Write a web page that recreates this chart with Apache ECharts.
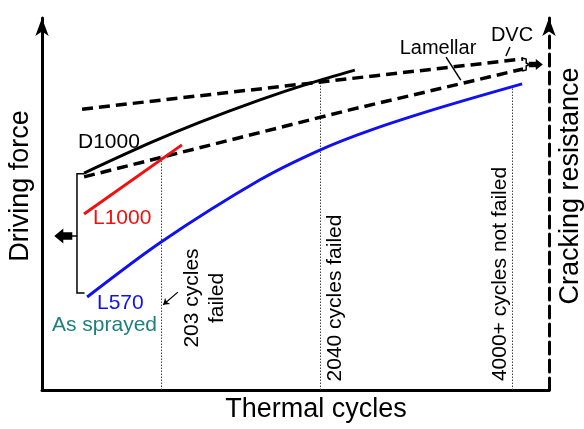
<!DOCTYPE html>
<html>
<head>
<meta charset="utf-8">
<script src="https://cdn.jsdelivr.net/npm/echarts@6/dist/echarts.min.js"></script>
<style>
html,body{margin:0;padding:0;background:#fff;}
#chart{width:584px;height:429px;}
</style>
</head>
<body>
<div id="chart"></div>
<script>
// Schematic chart: x = thermal cycles (arbitrary 0-100), y = driving force / cracking resistance (arbitrary 0-100)
const dvcLine      = [[7.9, 75.5], [94.9, 89.0]];
const lamellarLine = [[8.3, 57.3], [60.7, 75.3], [94.9, 86.3]];
const d1000Line    = [[8.3, 58.3], [21.3, 66.4], [31.2, 72.0], [43.0, 78.0], [52.9, 82.5], [61.7, 86.0]];
const l1000Line    = [[8.3, 47.3], [27.6, 65.9]];
const l570Line     = [[8.9, 25.0], [23.5, 39.8], [43.0, 56.5], [54.8, 64.5], [64.7, 69.8], [78.5, 75.9], [94.7, 82.3]];

// failure markers (x position, top of dotted guide)
const failX   = [23.5, 54.8, 92.7];
const failTop = [63.0, 83.1, 81.2];
const failLabels = ['203 cycles\nfailed', '2040 cycles failed', '4000+ cycles not failed'];

// left bracket grouping D1000 / L1000 / L570
const bracketPath = [[8.4, 58.1], [6.9, 58.1], [6.9, 26.1], [8.4, 26.1]];
const bracketStub = [[6.9, 41.4], [5.5, 41.4]];
const leftArrow   = [[4.2, 41.4]];
// right brace joining DVC / Lamellar
const bracePath   = [[94.7, 89.25], [95.5, 88.98], [95.5, 87.9], [96.1, 87.5], [95.5, 87.1], [95.5, 86.02], [94.7, 85.75]];
const rightArrow  = [[97.4, 87.5]];
// leader lines
const dvcLeader      = [[92.3, 92.2], [91.5, 89.8]];
const lamellarLeader = [[79.7, 89.5], [82.6, 83.3]];
const failLeader     = [[26.8, 26.3], [23.9, 22.9]];

const FONT = 'Liberation Sans, Arial, sans-serif';
const chart = echarts.init(document.getElementById('chart'), null, {renderer: 'canvas'});

const dash = [11, 6];
function lineSeries(data, color, width, type, smooth) {
  return {
    type: 'line', data: data, symbol: 'none', smooth: smooth ? 0.3 : false,
    lineStyle: {color: color, width: width, type: type, cap: 'butt'},
    silent: true, animation: false, z: 3
  };
}

const option = {
  animation: false,
  backgroundColor: '#fff',
  grid: {left: 42, right: 35, top: 18, bottom: 39, containLabel: false},
  xAxis: {
    type: 'value', min: 0, max: 100,
    axisLine: {show: true, onZero: false, lineStyle: {color: '#000', width: 3}},
    axisTick: {show: false}, axisLabel: {show: false}, splitLine: {show: false}
  },
  yAxis: [
    {
      type: 'value', min: 0, max: 100, position: 'left',
      axisLine: {show: true, onZero: false, symbol: ['none', 'arrow'], symbolSize: [10, 18],
        lineStyle: {color: '#000', width: 3}},
      axisTick: {show: false}, axisLabel: {show: false}, splitLine: {show: false}
    },
    {
      type: 'value', min: 0, max: 100, position: 'right',
      axisLine: {show: true, onZero: false, symbol: ['none', 'arrow'], symbolSize: [10, 18],
        lineStyle: {color: '#000', width: 3, type: [12, 6]}},
      axisTick: {show: false}, axisLabel: {show: false}, splitLine: {show: false}
    }
  ],
  series: [
    {
      type: 'lines', coordinateSystem: 'cartesian2d', silent: true, z: 1,
      lineStyle: {color: '#444', width: 1, type: [1.5, 1.5], opacity: 1},
      data: failX.map((x, i) => ({coords: [[x, 0], [x, failTop[i]]]}))
    },
    lineSeries(dvcLine, '#000', 3.5, dash, false),
    lineSeries(lamellarLine, '#000', 3.5, dash, false),
    lineSeries(d1000Line, '#000', 3, 'solid', true),
    lineSeries(l1000Line, '#f01010', 3, 'solid', false),
    lineSeries(l570Line, '#1010f0', 3, 'solid', true),
    {
      type: 'lines', coordinateSystem: 'cartesian2d', polyline: true, silent: true,
      lineStyle: {color: '#000', width: 1.5, opacity: 1},
      data: [{coords: bracketPath}, {coords: bracketStub}, {coords: bracePath},
             {coords: dvcLeader}, {coords: lamellarLeader}]
    },
    {
      type: 'lines', coordinateSystem: 'cartesian2d', silent: true,
      symbol: ['none', 'arrow'], symbolSize: 6,
      lineStyle: {color: '#000', width: 1.2, opacity: 1},
      data: [{coords: failLeader}]
    },
    {
      type: 'scatter', data: leftArrow, silent: true, z: 5,
      symbol: 'path://M0,6 L8,0 L8,3 L16,3 L16,9 L8,9 L8,12 Z', symbolSize: [18, 15],
      itemStyle: {color: '#000', opacity: 1}
    },
    {
      type: 'scatter', data: rightArrow, silent: true, z: 5,
      symbol: 'path://M16,6 L8,0 L8,3 L0,3 L0,9 L8,9 L8,12 Z', symbolSize: [14, 11],
      itemStyle: {color: '#000', opacity: 1}
    }
  ],
  graphic: [
    {type: 'text', x: 316, y: 410, style: {text: 'Thermal cycles', font: '27px ' + FONT, fill: '#000', align: 'center', verticalAlign: 'middle'}},
    {type: 'text', x: 21, y: 186, rotation: Math.PI / 2, style: {text: 'Driving force', font: '27px ' + FONT, fill: '#000', align: 'center', verticalAlign: 'middle'}},
    {type: 'text', x: 571, y: 186, rotation: Math.PI / 2, style: {text: 'Cracking resistance', font: '27px ' + FONT, fill: '#000', align: 'center', verticalAlign: 'middle'}},
    {type: 'text', x: 78, y: 142, style: {text: 'D1000', font: '21px ' + FONT, fill: '#000', align: 'left', verticalAlign: 'middle'}},
    {type: 'text', x: 93, y: 218, style: {text: 'L1000', font: '21px ' + FONT, fill: '#f01010', align: 'left', verticalAlign: 'middle'}},
    {type: 'text', x: 97, y: 303, style: {text: 'L570', font: '21px ' + FONT, fill: '#1010f0', align: 'left', verticalAlign: 'middle'}},
    {type: 'text', x: 52, y: 325, style: {text: 'As sprayed', font: '21px ' + FONT, fill: '#1e7f80', align: 'left', verticalAlign: 'middle'}},
    {type: 'text', x: 438, y: 48, style: {text: 'Lamellar', font: '20px ' + FONT, fill: '#000', align: 'center', verticalAlign: 'middle'}},
    {type: 'text', x: 512, y: 35, style: {text: 'DVC', font: '20px ' + FONT, fill: '#000', align: 'center', verticalAlign: 'middle'}},
    {type: 'text', x: 205, y: 298, rotation: Math.PI / 2, style: {text: failLabels[0], font: '21px ' + FONT, lineHeight: 25, fill: '#000', align: 'center', verticalAlign: 'middle'}},
    {type: 'text', x: 335, y: 298, rotation: Math.PI / 2, style: {text: failLabels[1], font: '21px ' + FONT, fill: '#000', align: 'center', verticalAlign: 'middle'}},
    {type: 'text', x: 500, y: 274, rotation: Math.PI / 2, style: {text: failLabels[2], font: '21px ' + FONT, fill: '#000', align: 'center', verticalAlign: 'middle'}}
  ]
};
chart.setOption(option);
</script>
</body>
</html>
